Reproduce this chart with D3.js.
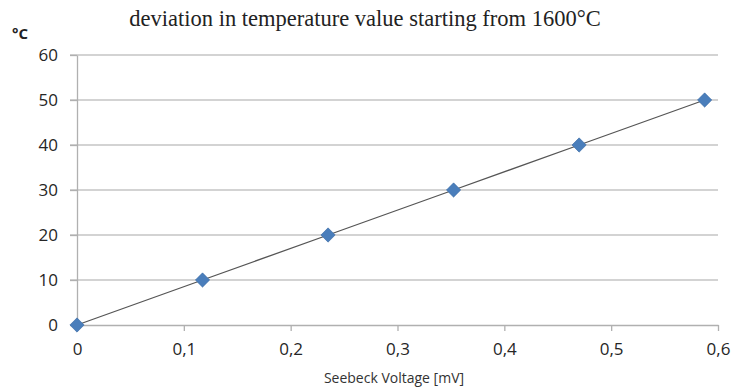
<!DOCTYPE html>
<meta charset="utf-8">
<html>
<body style="margin:0;background:#fff">
<div id="chart"></div>
<script src="https://d3js.org/d3.v7.min.js"></script>
<script>
var voltage = [0, 0.1175, 0.235, 0.3525, 0.47, 0.5875];
var deviation = [0, 10, 20, 30, 40, 50];
var xTicks = [0, 0.1, 0.2, 0.3, 0.4, 0.5, 0.6];
var yTicks = [0, 10, 20, 30, 40, 50, 60];

var W = 736, H = 389;
var svg = d3.select("#chart").append("svg").attr("width", W).attr("height", H);

var x = d3.scaleLinear().domain([0, 0.6]).range([77, 718]);
var y = d3.scaleLinear().domain([0, 60]).range([325, 55]);
var fmt = function (d) { return String(d).replace(".", ","); };

// grid
svg.selectAll(".grid").data(yTicks.slice(1)).enter().append("line")
    .attr("x1", 70).attr("x2", x(0.6))
    .attr("y1", function (d) { return y(d); }).attr("y2", function (d) { return y(d); })
    .attr("stroke", "#c4c4c4").attr("stroke-width", 1.3);

var xAxis = svg.append("g").attr("transform", "translate(0," + y(0) + ")")
    .call(d3.axisBottom(x).tickValues(xTicks).tickFormat(fmt).tickSizeInner(6).tickSizeOuter(0).tickPadding(12));
var yAxis = svg.append("g").attr("transform", "translate(" + x(0) + ",0)")
    .call(d3.axisLeft(y).tickValues(yTicks).tickSizeInner(7).tickSizeOuter(0).tickPadding(12));

[xAxis, yAxis].forEach(function (a) {
    a.select(".domain").attr("stroke", "#b0b0b0").attr("stroke-width", 1.3);
    a.selectAll(".tick line").attr("stroke", "#b0b0b0").attr("stroke-width", 1.3);
    a.selectAll("text").attr("fill", "#262626").style("font-family", "Open Sans, sans-serif").style("font-size", "17px");
});
yAxis.selectAll("text").attr("x", -19).attr("dy", "0.35em");

var pts = voltage.map(function (v, i) { return [v, deviation[i]]; });
svg.append("path").datum(pts)
    .attr("fill", "none").attr("stroke", "#555").attr("stroke-width", 1.3)
    .attr("d", d3.line().x(function (d) { return x(d[0]); }).y(function (d) { return y(d[1]); }));

svg.selectAll(".pt").data(pts).enter().append("path")
    .attr("transform", function (d) { return "translate(" + x(d[0]) + "," + y(d[1]) + ")"; })
    .attr("d", d3.symbol().type(d3.symbolDiamond2).size(130))
    .attr("fill", "#4a7ebb").attr("stroke", "#3a6aa5").attr("stroke-width", 0.6);

svg.append("text").attr("x", 365).attr("y", 26).attr("text-anchor", "middle")
    .style("font-family", "Liberation Serif, serif").style("font-size", "22.5px").attr("fill", "#222")
    .text("deviation in temperature value starting from 1600°C");

svg.append("text").attr("x", 12).attr("y", 39)
    .style("font-family", "Open Sans, sans-serif").style("font-size", "15px").style("font-weight", "bold").attr("fill", "#222")
    .text("°C");

svg.append("text").attr("x", 394).attr("y", 383).attr("text-anchor", "middle")
    .style("font-family", "Open Sans, sans-serif").style("font-size", "14px").attr("fill", "#333")
    .text("Seebeck Voltage [mV]");
</script>
</body>
</html>
